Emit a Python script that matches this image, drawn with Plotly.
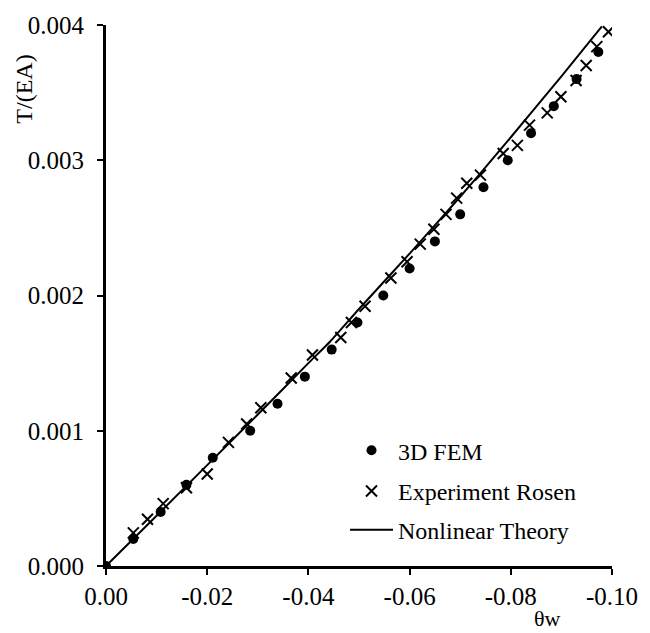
import plotly.graph_objects as go

# 3D FEM results
fem_x = [0.0, -0.0054, -0.0108, -0.0159, -0.0211, -0.0285, -0.0339, -0.0393, -0.0446,
         -0.0497, -0.0548, -0.0600, -0.0650, -0.0700, -0.0746, -0.0794, -0.0840,
         -0.0885, -0.0930, -0.0973]
fem_y = [0.0, 0.0002, 0.0004, 0.0006, 0.0008, 0.0010, 0.0012, 0.0014, 0.0016,
         0.0018, 0.0020, 0.0022, 0.0024, 0.0026, 0.0028, 0.0030, 0.0032,
         0.0034, 0.0036, 0.0038]

# Experiment Rosen
exp_x = [-0.0054, -0.0082, -0.0113, -0.0159, -0.0200, -0.0242, -0.0278, -0.0306,
         -0.0366, -0.0408, -0.0464, -0.0485, -0.0512, -0.0563, -0.0595, -0.0621,
         -0.0648, -0.0672, -0.0693, -0.0713, -0.0740, -0.0785, -0.0813, -0.0837,
         -0.0872, -0.0899, -0.0929, -0.0949, -0.0970, -0.0993]
exp_y = [0.000245, 0.000346, 0.000461, 0.000579, 0.00068, 0.000914, 0.00105, 0.00117,
         0.00139, 0.00156, 0.00169, 0.00180, 0.00192, 0.00213, 0.00225, 0.00238,
         0.00249, 0.00260, 0.00272, 0.00283, 0.00289, 0.00305, 0.00311, 0.00326,
         0.00335, 0.00347, 0.00359, 0.00370, 0.00384, 0.00395]

# Nonlinear theory
th_x = [0.0, -0.01, -0.02, -0.03, -0.04, -0.0443, -0.05, -0.06, -0.07, -0.0739,
        -0.08, -0.09, -0.098]
th_y = [0.0, 0.000372, 0.000746, 0.00112, 0.00150, 0.00166, 0.00190, 0.00231,
        0.00273, 0.00290, 0.00317, 0.00362, 0.00399]

# Tick labels
x_tickvals = [0.0, -0.02, -0.04, -0.06, -0.08, -0.10]
x_ticktext = ["0.00", "-0.02", "-0.04", "-0.06", "-0.08", "-0.10"]
y_tickvals = [0.0, 0.001, 0.002, 0.003, 0.004]
y_ticktext = ["0.000", "0.001", "0.002", "0.003", "0.004"]

FONT = "Liberation Serif"

fig = go.Figure()
fig.add_trace(go.Scatter(x=th_x, y=th_y, mode="lines", name="Nonlinear Theory",
                         line=dict(color="black", width=2, shape="spline", smoothing=0.5),
                         legend="legend3"))
fig.add_trace(go.Scatter(x=exp_x, y=exp_y, mode="markers", name="Experiment Rosen",
                         marker=dict(symbol="x-thin", size=11, color="black",
                                     line=dict(color="black", width=2)),
                         legend="legend2"))
fig.add_trace(go.Scatter(x=fem_x, y=fem_y, mode="markers", name="3D FEM",
                         marker=dict(symbol="circle", size=10, color="black"),
                         legend="legend"))

W0, W1 = 106, 612
H0, H1 = 22, 566


def px_x(p):
    return (p - W0) / (W1 - W0)


def px_y(p):
    return (H1 - p) / (H1 - H0)


leg_common = dict(xanchor="left", yanchor="middle", bgcolor="rgba(0,0,0,0)",
                  font=dict(family=FONT, size=24, color="black"), itemwidth=43)
fig.update_layout(
    width=650, height=633,
    showlegend=True,
    margin=dict(l=W0, r=650 - W1, t=H0, b=633 - H1),
    paper_bgcolor="white", plot_bgcolor="white",
    font=dict(family=FONT, size=24, color="black"),
    legend=dict(x=px_x(345), y=px_y(450), **leg_common),
    legend2=dict(x=px_x(345), y=px_y(491), **leg_common),
    legend3=dict(x=px_x(345), y=px_y(530), **leg_common),
    xaxis=dict(range=[0, -0.10], tickmode="array", tickvals=x_tickvals,
               ticktext=x_ticktext,
               showgrid=False, zeroline=False, showline=True, linecolor="black",
               linewidth=3, ticks="outside", ticklen=6, tickwidth=2,
               tickcolor="black", ticklabelstandoff=0,
               tickfont=dict(family=FONT, size=25, color="black")),
    yaxis=dict(range=[0, 0.004], tickmode="array", tickvals=y_tickvals,
               ticktext=y_ticktext,
               showgrid=False, zeroline=False, showline=True, linecolor="black",
               linewidth=3, ticks="outside", ticklen=6, tickwidth=2,
               tickcolor="black", ticklabelstandoff=8,
               tickfont=dict(family=FONT, size=25, color="black")),
    annotations=[
        dict(text="T/(EA)", xref="paper", yref="paper", x=px_x(24), y=px_y(87),
             textangle=-90, showarrow=False, xanchor="center", yanchor="middle",
             font=dict(family=FONT, size=24, color="black")),
        dict(text="θw", xref="paper", yref="paper", x=px_x(547), y=px_y(619),
             showarrow=False, xanchor="center", yanchor="middle",
             font=dict(family=FONT, size=22, color="black")),
    ],
)

fig.write_html("out.html")
